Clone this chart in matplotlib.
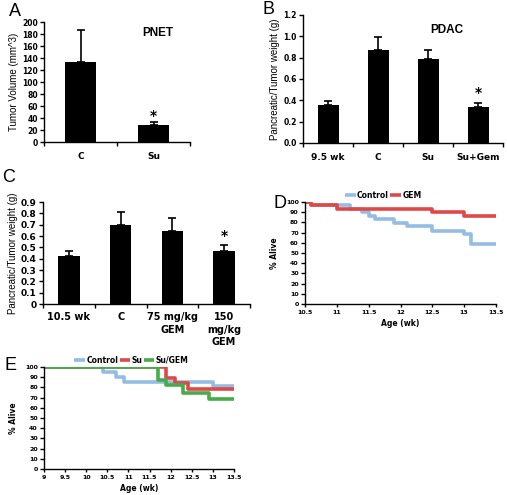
import numpy as np
import matplotlib
matplotlib.use('Agg')
from matplotlib import pyplot as plt

# panel A - PNET tumour volume
a_cats = ['C', 'Su']
a_vals = [134, 28]
a_errs = [52, 5]

# panel B - PDAC pancreatic/tumour weight
b_cats = ['9.5 wk', 'C', 'Su', 'Su+Gem']
b_vals = [0.36, 0.875, 0.79, 0.34]
b_errs = [0.03, 0.12, 0.08, 0.035]

# panel C - gemcitabine dose
c_cats = ['10.5 wk', 'C', '75 mg/kg\nGEM', '150\nmg/kg\nGEM']
c_vals = [0.425, 0.70, 0.64, 0.47]
c_errs = [0.04, 0.11, 0.12, 0.055]

# panel D - survival, Control vs GEM
d_ctrl_t = [10.5, 10.6, 11.2, 11.4, 11.5, 11.6, 11.9, 12.1, 12.5, 13.0, 13.1, 13.5]
d_ctrl_s = [100, 97, 93, 90, 86, 83, 79, 76, 72, 69, 59, 59]
d_gem_t = [10.5, 10.6, 11.0, 12.5, 13.0, 13.5]
d_gem_s = [100, 97, 93, 90, 86, 86]

# panel E - survival, Control / Su / Su+GEM
e_ctrl_t = [9.0, 10.4, 10.7, 10.9, 13.0, 13.5]
e_ctrl_s = [100, 95, 90, 85, 81, 81]
e_su_t = [9.0, 11.9, 12.1, 12.4, 13.5]
e_su_s = [100, 89, 84, 78, 78]
e_sg_t = [9.0, 11.7, 11.9, 12.3, 12.9, 13.5]
e_sg_s = [100, 87, 82, 75, 69, 69]

BLUE = '#94bde3'
RED = '#e04848'
GREEN = '#46ad4a'

plt.rcParams['font.family'] = ['DejaVu Sans']

fig = plt.figure(figsize=(5.07, 4.95), dpi=100)


def px_axes(l, t, r, b):
    W, H = 507.0, 495.0
    return fig.add_axes([l / W, 1 - b / H, (r - l) / W, (b - t) / H])


def style(ax, ysize):
    for s in ('top', 'right'):
        ax.spines[s].set_visible(False)
    for s in ('left', 'bottom'):
        ax.spines[s].set_linewidth(1.0)
    ax.tick_params(axis='y', direction='out', length=3, width=1, labelsize=ysize, pad=1.5)
    for lab in ax.get_yticklabels():
        lab.set_fontweight('bold')


def bar_panel(ax, cats, vals, errs, ylim, yticks, fmt, ylabel, star_idx, star_y, ysize=5.5):
    x = np.arange(len(cats))
    ax.bar(x, vals, width=0.42, color='black', zorder=2)
    ax.errorbar(x, vals, yerr=[np.zeros(len(errs)), errs], fmt='none', ecolor='black',
                elinewidth=1.2, capsize=3, capthick=1.2, zorder=1)
    ax.set_xlim(-0.5, len(cats) - 0.5)
    ax.set_ylim(*ylim)
    ax.set_yticks(yticks)
    ax.set_yticklabels([fmt.format(v) for v in yticks])
    ax.set_xticks(x)
    ax.set_xticklabels(cats, fontsize=6.5, fontweight='bold', va='top', linespacing=1.3)
    ax.set_xticks(np.arange(len(cats) + 1) - 0.5, minor=True)
    ax.tick_params(axis='x', which='major', length=0, pad=7)
    ax.tick_params(axis='x', which='minor', length=3, width=1, direction='out')
    ax.set_ylabel(ylabel, fontsize=7, family='Liberation Sans', labelpad=2)
    style(ax, ysize)
    ax.text(star_idx, star_y, '*', ha='center', va='center', fontsize=10, fontweight='bold')


# A
axA = px_axes(44, 22, 190, 142)
bar_panel(axA, a_cats, a_vals, a_errs, (0, 200), np.arange(0, 201, 20), '{:.0f}',
          'Tumor Volume (mm^3)', 1, 44)
axA.text(0.78, 0.88, 'PNET', transform=axA.transAxes, ha='center', fontsize=8.5, fontweight='bold',
         family='Liberation Sans')
fig.text(15 / 507, 1 - 11 / 495, 'A', fontsize=13, family='Liberation Sans', va='center', ha='center')

# B
axB = px_axes(303, 15, 503, 143)
bar_panel(axB, b_cats, b_vals, b_errs, (0, 1.2), np.arange(0, 1.21, 0.2), '{:.1f}',
          'Pancreatic/Tumor weight (g)', 3, 0.47)
axB.text(0.72, 0.86, 'PDAC', transform=axB.transAxes, ha='center', fontsize=8.5, fontweight='bold',
         family='Liberation Sans')
fig.text(268 / 507, 1 - 9 / 495, 'B', fontsize=13, family='Liberation Sans', va='center', ha='center')

# C
axC = px_axes(43, 202, 250, 304)
bar_panel(axC, c_cats, c_vals, c_errs, (0, 0.9), np.round(np.arange(0, 0.91, 0.1), 1), '{:g}',
          'Pancreatic/Tumor weight (g)', 3, 0.6, ysize=6.5)
axC.tick_params(axis='x', which='major', labelsize=7, pad=6)
fig.text(9 / 507, 1 - 178 / 495, 'C', fontsize=13, family='Liberation Sans', va='center', ha='center')


def surv_panel(ax, series, xlim, xticks, leg_x):
    for t, s, c, lab in series:
        ax.step(t, s, where='post', color=c, lw=2.6, label=lab, solid_capstyle='butt')
    ax.set_xlim(*xlim)
    ax.set_ylim(0, 100)
    ax.set_yticks(np.arange(0, 101, 10))
    ax.set_xticks(xticks)
    ax.set_xticklabels(['{:g}'.format(v) for v in xticks], fontsize=4.5, fontweight='bold')
    ax.tick_params(axis='x', direction='out', length=2.5, width=1, pad=2)
    style(ax, 4.5)
    ax.set_ylabel('% Alive', fontsize=5.5, fontweight='bold', labelpad=5)
    ax.set_xlabel('Age (wk)', fontsize=5.5, fontweight='bold', labelpad=3)
    ax.legend(loc='lower center', bbox_to_anchor=(leg_x, 0.99), ncol=len(series), frameon=False,
              handlelength=1.4, handletextpad=0.15, columnspacing=0.2,
              borderaxespad=0, prop={'weight': 'bold', 'size': 5.5})


# D
axD = px_axes(305, 202, 496, 304)
surv_panel(axD, [(d_ctrl_t, d_ctrl_s, BLUE, 'Control'), (d_gem_t, d_gem_s, RED, 'GEM')],
           (10.5, 13.5), np.arange(10.5, 13.51, 0.5), 0.41)
fig.text(280 / 507, 1 - 203 / 495, 'D', fontsize=13, family='Liberation Sans', va='center', ha='center')

# E
axE = px_axes(44, 367, 234, 469)
surv_panel(axE, [(e_ctrl_t, e_ctrl_s, BLUE, 'Control'), (e_su_t, e_su_s, RED, 'Su'),
                 (e_sg_t, e_sg_s, GREEN, 'Su/GEM')],
           (9, 13.5), np.arange(9, 13.51, 0.5), 0.46)
fig.text(10 / 507, 1 - 365 / 495, 'E', fontsize=13, family='Liberation Sans', va='center', ha='center')

fig.savefig('out.png', dpi=100, facecolor='white')
